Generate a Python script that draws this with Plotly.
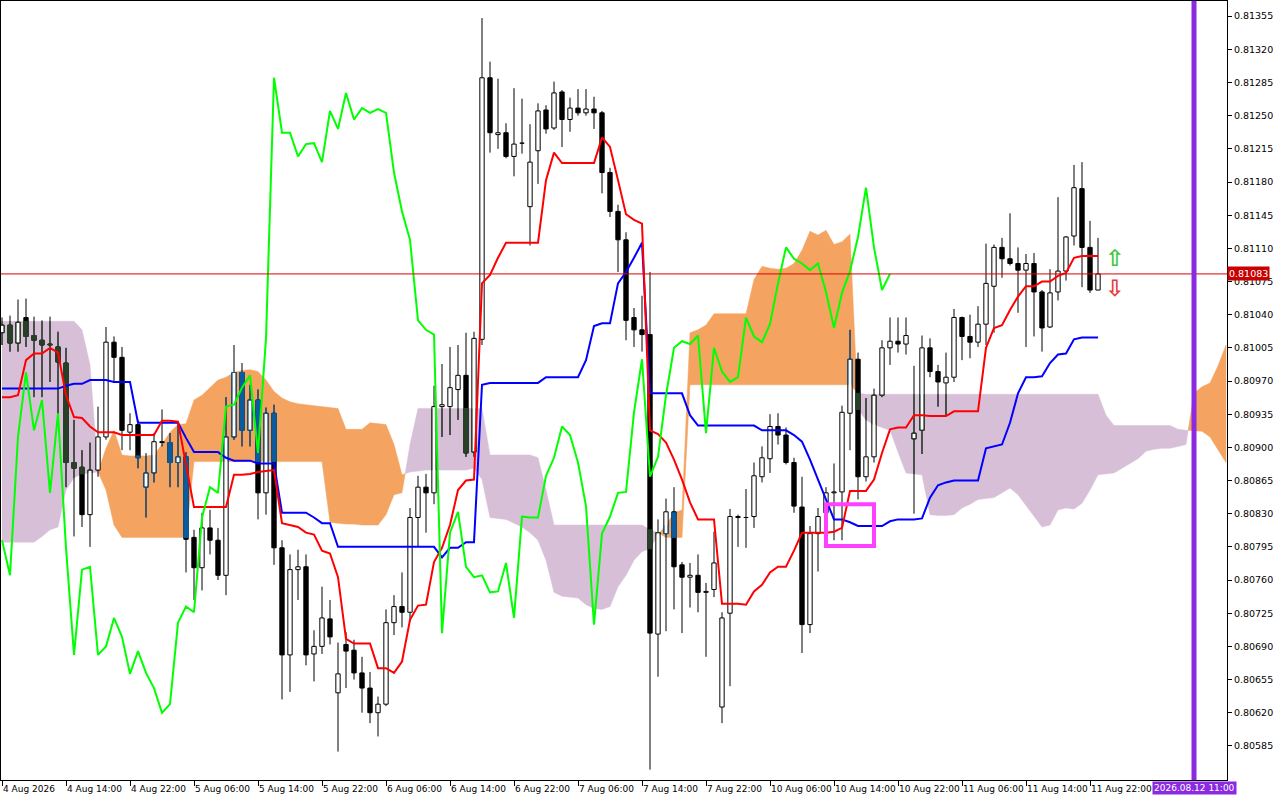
import plotly.graph_objects as go

# hourly bars, bar 0 = 4 Aug 2026 06:00, bar 137 = 11 Aug 23:00
opens = [
    0.81021, 0.81029, 0.81010, 0.81037, 0.81018, 0.81013, 0.81009, 0.81006, 0.80989, 0.80884,
    0.80879, 0.80829, 0.80876, 0.80911, 0.81011, 0.80995, 0.80916, 0.80924, 0.80858, 0.80873,
    0.80906, 0.80905, 0.80884, 0.80890, 0.80805, 0.80773, 0.80815, 0.80802, 0.80765, 0.80911,
    0.80979, 0.80918, 0.80950, 0.80852, 0.80936, 0.80794, 0.80681, 0.80771, 0.80774, 0.80682,
    0.80690, 0.80719, 0.80641, 0.80692, 0.80686, 0.80662, 0.80646, 0.80620, 0.80629, 0.80715,
    0.80732, 0.80726, 0.80826, 0.80858, 0.80852, 0.80943, 0.80943, 0.80961, 0.80976, 0.80895,
    0.81014, 0.81290, 0.81230, 0.81232, 0.81207, 0.81221, 0.81154, 0.81213, 0.81256, 0.81237,
    0.81275, 0.81246, 0.81258, 0.81253, 0.81257, 0.81253, 0.81190, 0.81149, 0.81119, 0.81037,
    0.81024, 0.81019, 0.80703, 0.80809, 0.80832, 0.80776, 0.80763, 0.80765, 0.80747, 0.80750,
    0.80626, 0.80725, 0.80827, 0.80826, 0.80827, 0.80869, 0.80888, 0.80922, 0.80913, 0.80884,
    0.80837, 0.80713, 0.80809, 0.80831, 0.80852, 0.80853, 0.80936, 0.80993, 0.80869, 0.80890,
    0.80955, 0.81005, 0.81012, 0.81009, 0.80909, 0.80918, 0.81005, 0.80980, 0.80968, 0.80974,
    0.81037, 0.81017, 0.81011, 0.81030, 0.81070, 0.81111, 0.81099, 0.81094, 0.81087, 0.81094,
    0.81064, 0.81027, 0.81064, 0.81086, 0.81123, 0.81173, 0.81111, 0.81066,
]
highs = [
    0.81037, 0.81039, 0.81056, 0.81057, 0.81038, 0.81034, 0.81038, 0.81022, 0.81005, 0.80929,
    0.80897, 0.80905, 0.80943, 0.81027, 0.81017, 0.81006, 0.80936, 0.80929, 0.80894, 0.80915,
    0.80940, 0.80915, 0.80927, 0.80895, 0.80813, 0.80831, 0.80834, 0.80815, 0.80953, 0.81008,
    0.80989, 0.80966, 0.80961, 0.80942, 0.80945, 0.80802, 0.80787, 0.80792, 0.80787, 0.80707,
    0.80753, 0.80739, 0.80694, 0.80705, 0.80697, 0.80679, 0.80663, 0.80637, 0.80729, 0.80744,
    0.80768, 0.80836, 0.80870, 0.80872, 0.80965, 0.80988, 0.81006, 0.81008, 0.81021, 0.81022,
    0.81353, 0.81307, 0.81289, 0.81242, 0.81279, 0.81268, 0.81241, 0.81263, 0.81261, 0.81286,
    0.81277, 0.81269, 0.81278, 0.81278, 0.81270, 0.81255, 0.81195, 0.81156, 0.81127, 0.81047,
    0.81060, 0.81085, 0.80824, 0.80846, 0.80858, 0.80779, 0.80778, 0.80787, 0.80757, 0.80811,
    0.80726, 0.80835, 0.80829, 0.80856, 0.80884, 0.80901, 0.80935, 0.80936, 0.80921, 0.80889,
    0.80869, 0.80817, 0.80836, 0.80858, 0.80883, 0.80944, 0.81024, 0.81000, 0.80952, 0.80962,
    0.81013, 0.81037, 0.81037, 0.81037, 0.80986, 0.81018, 0.81015, 0.80987, 0.81000, 0.81046,
    0.81038, 0.81040, 0.81049, 0.81115, 0.81114, 0.81121, 0.81147, 0.81111, 0.81104, 0.81105,
    0.81066, 0.81088, 0.81164, 0.81123, 0.81198, 0.81201, 0.81139, 0.81121,
]
lows = [
    0.81008, 0.81001, 0.81001, 0.81006, 0.80953, 0.80953, 0.80969, 0.80929, 0.80858, 0.80806,
    0.80816, 0.80795, 0.80869, 0.80908, 0.80968, 0.80897, 0.80897, 0.80878, 0.80826, 0.80863,
    0.80901, 0.80858, 0.80858, 0.80768, 0.80739, 0.80749, 0.80787, 0.80760, 0.80744, 0.80908,
    0.80901, 0.80901, 0.80824, 0.80829, 0.80776, 0.80634, 0.80642, 0.80739, 0.80670, 0.80653,
    0.80682, 0.80692, 0.80579, 0.80646, 0.80655, 0.80620, 0.80609, 0.80595, 0.80627, 0.80702,
    0.80710, 0.80716, 0.80795, 0.80810, 0.80840, 0.80911, 0.80913, 0.80929, 0.80890, 0.80890,
    0.81008, 0.81211, 0.81215, 0.81205, 0.81186, 0.81210, 0.81113, 0.81178, 0.81231, 0.81235,
    0.81217, 0.81233, 0.81250, 0.81250, 0.81236, 0.81168, 0.81143, 0.81085, 0.81013, 0.81006,
    0.81001, 0.80560, 0.80658, 0.80706, 0.80729, 0.80704, 0.80731, 0.80726, 0.80679, 0.80742,
    0.80609, 0.80648, 0.80795, 0.80794, 0.80815, 0.80863, 0.80873, 0.80903, 0.80882, 0.80831,
    0.80683, 0.80704, 0.80769, 0.80816, 0.80802, 0.80802, 0.80897, 0.80845, 0.80864, 0.80884,
    0.80953, 0.80987, 0.81000, 0.80998, 0.80830, 0.80893, 0.80974, 0.80943, 0.80934, 0.80969,
    0.80992, 0.80994, 0.81006, 0.81008, 0.81021, 0.81079, 0.81092, 0.81042, 0.81006, 0.81017,
    0.81001, 0.81026, 0.81055, 0.81076, 0.81113, 0.81069, 0.81063, 0.81066,
]
closes = [
    0.81029, 0.81010, 0.81032, 0.81017, 0.81013, 0.81008, 0.81008, 0.80990, 0.80884, 0.80878,
    0.80829, 0.80876, 0.80911, 0.81011, 0.80995, 0.80918, 0.80924, 0.80889, 0.80873, 0.80906,
    0.80905, 0.80884, 0.80890, 0.80803, 0.80773, 0.80815, 0.80802, 0.80765, 0.80911, 0.80979,
    0.80918, 0.80950, 0.80852, 0.80936, 0.80794, 0.80681, 0.80771, 0.80774, 0.80681, 0.80690,
    0.80720, 0.80700, 0.80661, 0.80685, 0.80662, 0.80646, 0.80620, 0.80629, 0.80715, 0.80732,
    0.80726, 0.80826, 0.80858, 0.80852, 0.80943, 0.80945, 0.80963, 0.80976, 0.80894, 0.81015,
    0.81290, 0.81232, 0.81232, 0.81207, 0.81220, 0.81221, 0.81201, 0.81255, 0.81236, 0.81274,
    0.81246, 0.81258, 0.81253, 0.81257, 0.81253, 0.81190, 0.81149, 0.81119, 0.81034, 0.81024,
    0.81019, 0.80704, 0.80810, 0.80832, 0.80774, 0.80763, 0.80765, 0.80747, 0.80748, 0.80778,
    0.80720, 0.80827, 0.80826, 0.80826, 0.80870, 0.80889, 0.80922, 0.80913, 0.80884, 0.80838,
    0.80713, 0.80809, 0.80827, 0.80852, 0.80853, 0.80937, 0.80993, 0.80869, 0.80890, 0.80955,
    0.81005, 0.81012, 0.81009, 0.81018, 0.80915, 0.81005, 0.80980, 0.80969, 0.80974, 0.81037,
    0.81017, 0.81011, 0.81030, 0.81073, 0.81111, 0.81099, 0.81094, 0.81087, 0.81094, 0.81064,
    0.81026, 0.81063, 0.81086, 0.81122, 0.81174, 0.81111, 0.81066, 0.81083,
]

# Ichimoku lines
tenkan = [
    0.80953, 0.80953, 0.80955, 0.80992, 0.80999, 0.80999, 0.81005, 0.81000, 0.80955, 0.80932,
    0.80931, 0.80922, 0.80916, 0.80916, 0.80916, 0.80913, 0.80913, 0.80913, 0.80913, 0.80913,
    0.80928, 0.80928, 0.80927, 0.80882, 0.80837, 0.80837, 0.80837, 0.80837, 0.80837, 0.80871,
    0.80871, 0.80872, 0.80874, 0.80875, 0.80876, 0.80820, 0.80818, 0.80816, 0.80810, 0.80808,
    0.80791, 0.80788, 0.80763, 0.80698, 0.80693, 0.80693, 0.80693, 0.80667, 0.80667, 0.80662,
    0.80674, 0.80718, 0.80733, 0.80734, 0.80779, 0.80794, 0.80818, 0.80855, 0.80865, 0.80866,
    0.81073, 0.81082, 0.81100, 0.81116, 0.81116, 0.81116, 0.81116, 0.81116, 0.81182, 0.81211,
    0.81200, 0.81200, 0.81200, 0.81200, 0.81200, 0.81227, 0.81217, 0.81182, 0.81146, 0.81140,
    0.81136, 0.80918, 0.80914, 0.80905, 0.80887, 0.80866, 0.80842, 0.80824, 0.80824, 0.80824,
    0.80735, 0.80735, 0.80735, 0.80734, 0.80748, 0.80755, 0.80768, 0.80774, 0.80774, 0.80791,
    0.80810, 0.80810, 0.80810, 0.80810, 0.80811, 0.80815, 0.80854, 0.80854, 0.80854, 0.80866,
    0.80894, 0.80919, 0.80921, 0.80921, 0.80934, 0.80934, 0.80933, 0.80933, 0.80933, 0.80938,
    0.80938, 0.80938, 0.80938, 0.81005, 0.81026, 0.81029, 0.81045, 0.81059, 0.81070, 0.81070,
    0.81075, 0.81075, 0.81081, 0.81084, 0.81100, 0.81102, 0.81102, 0.81102,
]
kijun = [
    0.80962, 0.80962, 0.80962, 0.80962, 0.80962, 0.80962, 0.80962, 0.80962, 0.80965, 0.80967,
    0.80967, 0.80971, 0.80971, 0.80971, 0.80969, 0.80969, 0.80969, 0.80926, 0.80926, 0.80926,
    0.80926, 0.80926, 0.80926, 0.80910, 0.80895, 0.80895, 0.80895, 0.80895, 0.80889, 0.80886,
    0.80886, 0.80886, 0.80883, 0.80883, 0.80883, 0.80831, 0.80831, 0.80831, 0.80831, 0.80826,
    0.80820, 0.80820, 0.80795, 0.80795, 0.80795, 0.80795, 0.80795, 0.80795, 0.80795, 0.80795,
    0.80795, 0.80795, 0.80795, 0.80795, 0.80795, 0.80784, 0.80794, 0.80794, 0.80800, 0.80800,
    0.80966, 0.80968, 0.80968, 0.80968, 0.80968, 0.80968, 0.80968, 0.80968, 0.80974, 0.80974,
    0.80974, 0.80974, 0.80974, 0.80992, 0.81028, 0.81031, 0.81031, 0.81073, 0.81085, 0.81100,
    0.81116, 0.80957, 0.80957, 0.80957, 0.80957, 0.80957, 0.80934, 0.80923, 0.80923, 0.80923,
    0.80923, 0.80923, 0.80923, 0.80923, 0.80923, 0.80918, 0.80918, 0.80918, 0.80918, 0.80913,
    0.80906, 0.80887, 0.80866, 0.80845, 0.80824, 0.80824, 0.80821, 0.80817, 0.80817, 0.80817,
    0.80817, 0.80822, 0.80824, 0.80824, 0.80824, 0.80825, 0.80847, 0.80860, 0.80863, 0.80865,
    0.80865, 0.80865, 0.80865, 0.80899, 0.80901, 0.80903, 0.80926, 0.80957, 0.80974, 0.80974,
    0.80975, 0.80989, 0.80998, 0.80999, 0.81014, 0.81016, 0.81016, 0.81016,
]
# senkou spans, already moved 26 bars ahead (bars 0..153)
span_a = [
    0.80800, 0.80800, 0.80800, 0.80800, 0.80800, 0.80806, 0.80813, 0.80816, 0.80855, 0.80868,
    0.80872, 0.80873, 0.80874, 0.80899, 0.80918, 0.80892, 0.80891, 0.80891, 0.80891, 0.80892,
    0.80903, 0.80916, 0.80924, 0.80925, 0.80950, 0.80955, 0.80963, 0.80971, 0.80974, 0.80979,
    0.80981, 0.80982, 0.80980, 0.80971, 0.80959, 0.80952, 0.80948, 0.80946, 0.80945, 0.80944,
    0.80943, 0.80942, 0.80941, 0.80919, 0.80919, 0.80919, 0.80926, 0.80925, 0.80924, 0.80903,
    0.80871, 0.80874, 0.80875, 0.80876, 0.80876, 0.80876, 0.80876, 0.80876, 0.80876, 0.80878,
    0.80866, 0.80826, 0.80825, 0.80824, 0.80820, 0.80816, 0.80810, 0.80802, 0.80781, 0.80747,
    0.80743, 0.80742, 0.80741, 0.80734, 0.80730, 0.80729, 0.80732, 0.80753, 0.80765, 0.80781,
    0.80790, 0.80793, 0.80808, 0.80818, 0.80831, 0.80834, 0.81021, 0.81024, 0.81029, 0.81041,
    0.81041, 0.81041, 0.81041, 0.81041, 0.81077, 0.81091, 0.81089, 0.81088, 0.81089, 0.81094,
    0.81108, 0.81128, 0.81124, 0.81129, 0.81114, 0.81117, 0.81125, 0.80940, 0.80929, 0.80924,
    0.80921, 0.80918, 0.80895, 0.80873, 0.80872, 0.80871, 0.80829, 0.80828, 0.80828, 0.80829,
    0.80836, 0.80840, 0.80845, 0.80846, 0.80847, 0.80852, 0.80857, 0.80850, 0.80839, 0.80827,
    0.80816, 0.80818, 0.80834, 0.80836, 0.80835, 0.80841, 0.80855, 0.80871, 0.80872, 0.80873,
    0.80878, 0.80883, 0.80888, 0.80896, 0.80898, 0.80899, 0.80899, 0.80901, 0.80903, 0.80957,
    0.80964, 0.80968, 0.80986, 0.81008,
]
span_b = [
    0.81033, 0.81033, 0.81033, 0.81033, 0.81033, 0.81033, 0.81033, 0.81033, 0.81033, 0.81033,
    0.81024, 0.80987, 0.80874, 0.80855, 0.80818, 0.80805, 0.80805, 0.80805, 0.80805, 0.80805,
    0.80805, 0.80805, 0.80805, 0.80805, 0.80885, 0.80885, 0.80885, 0.80885, 0.80885, 0.80885,
    0.80885, 0.80885, 0.80885, 0.80885, 0.80885, 0.80885, 0.80885, 0.80885, 0.80885, 0.80885,
    0.80885, 0.80821, 0.80820, 0.80819, 0.80819, 0.80818, 0.80818, 0.80818, 0.80829, 0.80850,
    0.80852, 0.80903, 0.80941, 0.80941, 0.80941, 0.80941, 0.80941, 0.80941, 0.80941, 0.80941,
    0.80941, 0.80892, 0.80892, 0.80892, 0.80892, 0.80892, 0.80892, 0.80889, 0.80855, 0.80818,
    0.80818, 0.80818, 0.80818, 0.80818, 0.80818, 0.80818, 0.80818, 0.80818, 0.80818, 0.80818,
    0.80818, 0.80813, 0.80810, 0.80805, 0.80805, 0.80805, 0.80966, 0.80966, 0.80966, 0.80966,
    0.80966, 0.80966, 0.80966, 0.80966, 0.80966, 0.80966, 0.80966, 0.80966, 0.80966, 0.80966,
    0.80966, 0.80966, 0.80966, 0.80966, 0.80966, 0.80966, 0.80966, 0.80957, 0.80956, 0.80956,
    0.80956, 0.80956, 0.80956, 0.80956, 0.80956, 0.80956, 0.80956, 0.80956, 0.80956, 0.80956,
    0.80956, 0.80956, 0.80956, 0.80956, 0.80956, 0.80956, 0.80956, 0.80956, 0.80956, 0.80956,
    0.80956, 0.80956, 0.80956, 0.80956, 0.80956, 0.80956, 0.80956, 0.80956, 0.80934, 0.80923,
    0.80923, 0.80923, 0.80923, 0.80923, 0.80923, 0.80923, 0.80923, 0.80919, 0.80918, 0.80918,
    0.80917, 0.80911, 0.80897, 0.80884,
]
chikou_shift = 26

time_labels = [
    "4 Aug 2026", "4 Aug 14:00", "4 Aug 22:00", "5 Aug 06:00", "5 Aug 14:00", "5 Aug 22:00",
    "6 Aug 06:00", "6 Aug 14:00", "6 Aug 22:00", "7 Aug 06:00", "7 Aug 14:00", "7 Aug 22:00",
    "10 Aug 06:00", "10 Aug 14:00", "10 Aug 22:00", "11 Aug 06:00", "11 Aug 14:00", "11 Aug 22:00",
]
label_step = 8
price_ticks = [
    0.80585, 0.80620, 0.80655, 0.80690, 0.80725, 0.80760, 0.80795, 0.80830, 0.80865, 0.80900,
    0.80935, 0.80970, 0.81005, 0.81040, 0.81075, 0.81110, 0.81145, 0.81180, 0.81215, 0.81250,
    0.81285, 0.81320, 0.81355,
]

last_price = 0.81083
cursor_bar = 149
cursor_text = "2026.08.12 11:00"
box_bars = [103, 109]
box_prices = [0.80796, 0.80840]
arrow_bar = 139
arrow_up_price = 0.81100
arrow_down_price = 0.81068

UP_FILL, DN_FILL = "#F4A460", "#D8BFD8"
# terminal paints bars inside the cloud with inverted colours
UP_INK, DN_INK = "#0B5B9F", "#274027"
HALF = 0.27
LINE_W = 2

n_bars = len(closes)
bars = list(range(n_bars))


def cloud_pieces(a, b):
    pieces = []
    xs, ta, tb = [0], [a[0]], [b[0]]
    up = a[0] >= b[0]
    for i in range(1, len(a)):
        d0, d1 = a[i - 1] - b[i - 1], a[i] - b[i]
        now = up if d1 == 0 else d1 > 0
        if now != up:
            t = 0.0 if d0 == 0 else d0 / (d0 - d1)
            xc = i - 1 + t
            yc = a[i - 1] + t * (a[i] - a[i - 1])
            if t > 0:
                xs.append(xc); ta.append(yc); tb.append(yc)
            pieces.append((up, xs, ta, tb))
            xs, ta, tb = [xc], [yc], [yc]
            up = now
        xs.append(i); ta.append(a[i]); tb.append(b[i])
    pieces.append((up, xs, ta, tb))
    return pieces


fig = go.Figure()

for up, xs, ta, tb in cloud_pieces(span_a, span_b):
    col = UP_FILL if up else DN_FILL
    fig.add_trace(go.Scatter(x=xs + xs[::-1], y=ta + tb[::-1], fill="toself", fillcolor=col,
                             mode="lines", line=dict(color=col, width=0.5), hoverinfo="skip"))

# candles
wick_x, wick_y = [], []
bull_x, bull_y, bear_x, bear_y = [], [], [], []
ink_wick = {True: ([], []), False: ([], [])}
ink_edge = {True: ([], []), False: ([], [])}
ink_body = {True: ([], []), False: ([], [])}

for i in bars:
    o, h, l, c = opens[i], highs[i], lows[i], closes[i]
    bot, top = min(o, c), max(o, c)
    wick_x += [i, i, None]
    wick_y += [l, h, None]
    rx = [i - HALF, i + HALF, i + HALF, i - HALF, i - HALF, None]
    ry = [bot, bot, top, top, bot, None]
    if c >= o:
        bull_x += rx; bull_y += ry
    else:
        bear_x += rx; bear_y += ry

    lo_c, hi_c = sorted((span_a[i], span_b[i]))
    up = span_a[i] > span_b[i]
    y0, y1 = max(l, lo_c), min(h, hi_c)
    if y1 > y0:
        ink_wick[up][0].extend([i, i, None]); ink_wick[up][1].extend([y0, y1, None])
    b0, b1 = max(bot, lo_c), min(top, hi_c)
    if c < o:
        if b1 > b0:
            ink_body[up][0].extend(rx)
            ink_body[up][1].extend([b0, b0, b1, b1, b0, None])
    else:
        ex, ey = ink_edge[up]
        if b1 > b0:
            ex += [i - HALF, i - HALF, None, i + HALF, i + HALF, None]
            ey += [b0, b1, None, b0, b1, None]
        for edge in (bot, top):
            if lo_c <= edge <= hi_c:
                ex += [i - HALF, i + HALF, None]
                ey += [edge, edge, None]

fig.add_trace(go.Scatter(x=wick_x, y=wick_y, mode="lines", line=dict(color="black", width=1),
                         hoverinfo="skip"))
for up, (xs, ys) in ink_wick.items():
    fig.add_trace(go.Scatter(x=xs, y=ys, mode="lines", hoverinfo="skip",
                             line=dict(color=UP_INK if up else DN_INK, width=1)))
fig.add_trace(go.Scatter(x=bull_x, y=bull_y, mode="lines", fill="toself", fillcolor="white",
                         line=dict(color="black", width=1), hoverinfo="skip"))
fig.add_trace(go.Scatter(x=bear_x, y=bear_y, mode="lines", fill="toself", fillcolor="black",
                         line=dict(color="black", width=1), hoverinfo="skip"))
for up, (xs, ys) in ink_body.items():
    col = UP_INK if up else DN_INK
    fig.add_trace(go.Scatter(x=xs, y=ys, mode="lines", fill="toself", fillcolor=col,
                             line=dict(color=col, width=1), hoverinfo="skip"))
for up, (xs, ys) in ink_edge.items():
    fig.add_trace(go.Scatter(x=xs, y=ys, mode="lines", hoverinfo="skip",
                             line=dict(color=UP_INK if up else DN_INK, width=1)))

# ichimoku lines
fig.add_trace(go.Scatter(x=bars, y=kijun, mode="lines", line=dict(color="#0000FF", width=LINE_W),
                         hoverinfo="skip"))
fig.add_trace(go.Scatter(x=bars, y=tenkan, mode="lines", line=dict(color="#FF0000", width=LINE_W),
                         hoverinfo="skip"))
fig.add_trace(go.Scatter(x=bars[:n_bars - chikou_shift], y=closes[chikou_shift:], mode="lines",
                         line=dict(color="#00FF00", width=LINE_W), hoverinfo="skip"))

shapes = [
    dict(type="line", xref="paper", x0=0, x1=1, yref="y", y0=last_price, y1=last_price,
         line=dict(color="#DD0000", width=1)),
    dict(type="line", xref="x", x0=cursor_bar, x1=cursor_bar, yref="paper", y0=0, y1=1,
         line=dict(color="#8A2BE2", width=5)),
    dict(type="rect", xref="x", x0=box_bars[0], x1=box_bars[1], yref="y",
         y0=box_prices[0], y1=box_prices[1], line=dict(color="#FF40FF", width=4)),
]

label_bars = list(range(0, n_bars, label_step))
annotations = []
for b, txt in zip(label_bars, time_labels):
    annotations.append(dict(x=b, xref="x", y=0, yref="paper", text=txt, showarrow=False,
                            xanchor="left", yanchor="top", xshift=-1, yshift=-2,
                            font=dict(size=9, color="black")))
annotations.append(dict(x=cursor_bar, xref="x", y=0, yref="paper", text=cursor_text,
                        showarrow=False, xanchor="center", yanchor="top", yshift=-1,
                        bgcolor="#8A2BE2", borderpad=1, font=dict(size=9, color="white")))
annotations.append(dict(x=1, xref="paper", y=last_price, yref="y", text=f"{last_price:.5f}",
                        showarrow=False, xanchor="left", yanchor="middle", bgcolor="#C80000",
                        borderpad=1, font=dict(size=9.5, color="white")))
annotations.append(dict(x=arrow_bar, xref="x", y=arrow_up_price, yref="y", text="<b>\u21e7</b>",
                        showarrow=False, borderpad=0, font=dict(size=23, color="#3CC83C")))
annotations.append(dict(x=arrow_bar, xref="x", y=arrow_down_price, yref="y", text="<b>\u21e9</b>",
                        showarrow=False, borderpad=0, font=dict(size=23, color="#E83C3C")))

fig.update_layout(
    width=1280, height=800,
    margin=dict(l=1, r=53, t=1, b=20),
    paper_bgcolor="white", plot_bgcolor="white",
    showlegend=False,
    font=dict(family="DejaVu Sans", size=9, color="black"),
    shapes=shapes, annotations=annotations,
    xaxis=dict(range=[-0.125, 153.125], showgrid=False, zeroline=False, showline=True,
               linecolor="black", linewidth=1, mirror=True, ticks="outside", ticklen=5,
               tickcolor="black", tickvals=label_bars, showticklabels=False),
    yaxis=dict(range=[0.80549, 0.81371], side="right", showgrid=False, zeroline=False,
               showline=True, linecolor="black", linewidth=1, mirror=True, ticks="outside",
               ticklen=4, tickcolor="black", tickvals=price_ticks,
               ticktext=[f"{p:.5f}" for p in price_ticks], tickfont=dict(size=9.5)),
)

fig.write_html("out.html", config={"displayModeBar": False},
               post_script="document.body.style.margin='0';document.body.style.overflow='hidden';")
